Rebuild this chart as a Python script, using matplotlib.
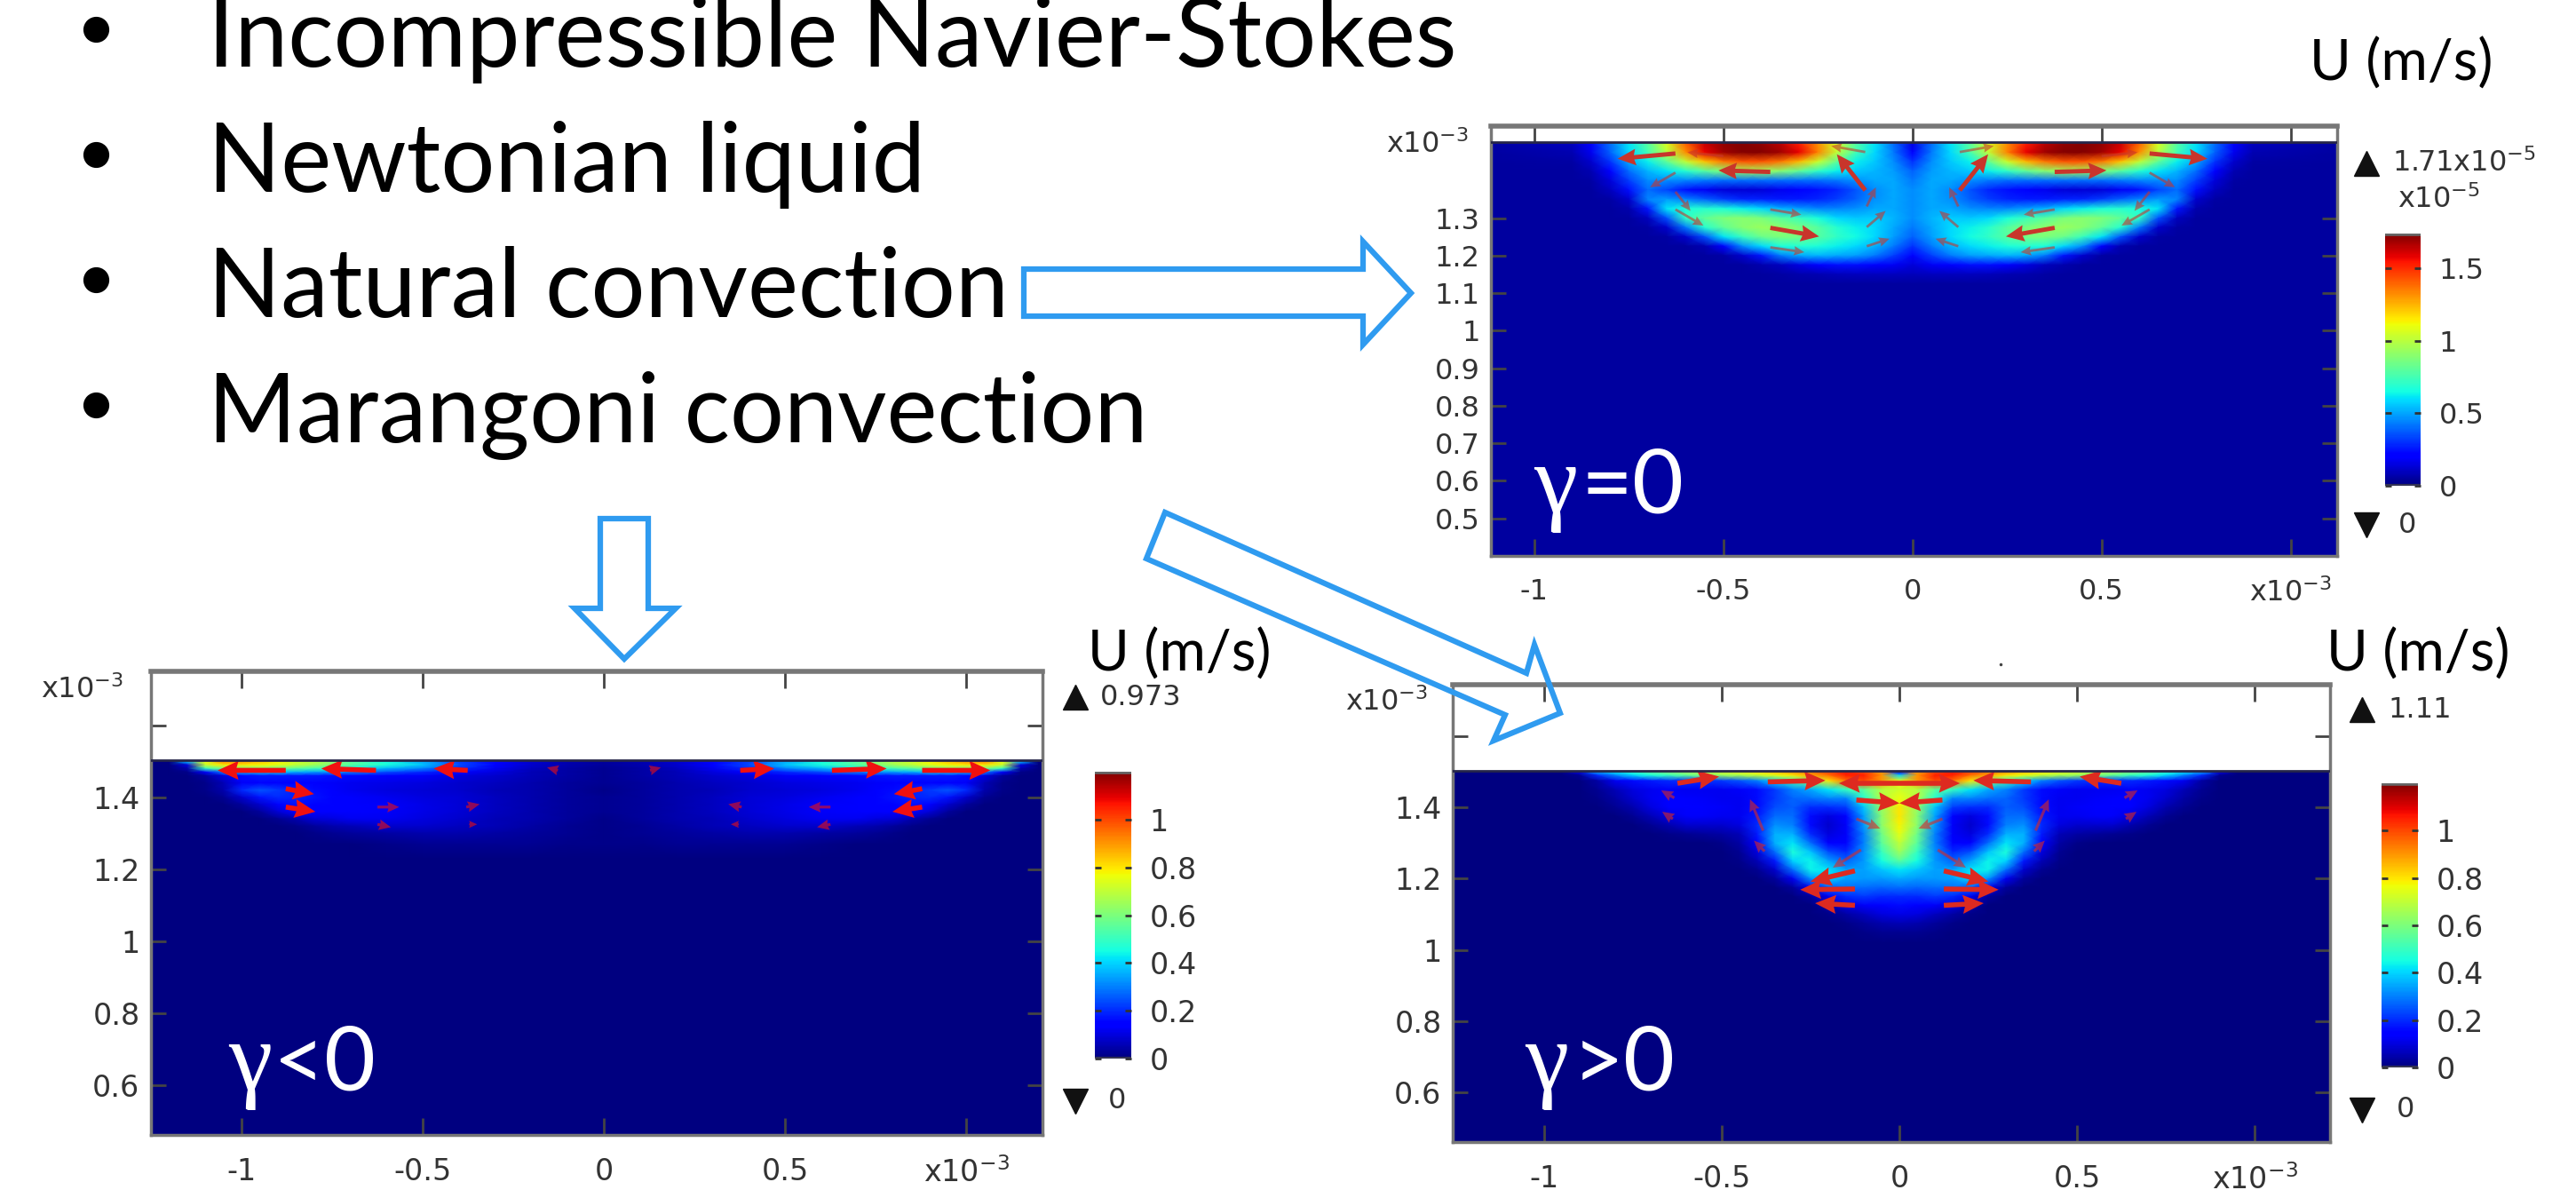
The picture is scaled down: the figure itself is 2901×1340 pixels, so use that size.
import numpy as np
import matplotlib
matplotlib.use("Agg")
import matplotlib.pyplot as plt
from matplotlib.cm import ScalarMappable
from matplotlib.colors import Normalize

W, H = 2901, 1340
BLUE = "#2f9bf0"

bullets = ["Incompressible Navier-Stokes", "Newtonian liquid", "Natural convection", "Marangoni convection"]

x_ticks = [-1, -0.5, 0, 0.5, 1]
x_labels = ["-1", "-0.5", "0", "0.5", "x10$^{-3}$"]

# gamma = 0, speed in 1e-5 m/s, right half of the pool (mirrored when drawn)
xs_a = [0, .05, .1, .15, .2, .25, .3, .35, .4, .45, .5, .55, .6, .65, .7, .75, .8, .85, .9]
ys_a = [1.5, 1.475, 1.45, 1.425, 1.4, 1.375, 1.35, 1.325, 1.3, 1.275, 1.25, 1.225, 1.2, 1.175, 1.15, 1.125]
rows_a = [
    [.15, .4, .6, .78, 1.05, 1.3, 1.5, 1.62, 1.68, 1.7, 1.68, 1.6, 1.38, 1.05, .78, .6, .4, .2, .1],
    [.2, .42, .58, .74, 1.0, 1.32, 1.55, 1.66, 1.7, 1.7, 1.66, 1.55, 1.3, .98, .74, .58, .38, .17, .08],
    [.3, .45, .55, .62, .8, 1.02, 1.22, 1.34, 1.4, 1.4, 1.34, 1.2, 1.0, .8, .62, .5, .3, .12, .06],
    [.38, .48, .52, .55, .62, .7, .8, .88, .92, .92, .86, .78, .68, .6, .52, .4, .2, .08],
    [.42, .5, .5, .46, .42, .4, .4, .4, .4, .4, .4, .42, .44, .45, .45, .32, .14, .06],
    [.45, .5, .45, .36, .28, .24, .2, .17, .14, .13, .14, .18, .24, .33, .4, .24, .1],
    [.45, .5, .46, .38, .32, .28, .26, .26, .27, .28, .32, .38, .44, .48, .44, .12, .06],
    [.45, .5, .5, .46, .44, .44, .48, .52, .58, .62, .66, .68, .66, .6, .25, .07],
    [.45, .52, .56, .55, .58, .65, .72, .78, .85, .88, .86, .8, .7, .35, .1],
    [.42, .5, .58, .62, .68, .78, .85, .9, .92, .88, .8, .68, .42, .12, .06],
    [.38, .48, .58, .64, .7, .78, .84, .86, .82, .72, .6, .35, .12, .06],
    [.3, .42, .52, .58, .62, .66, .68, .66, .58, .45, .2, .08],
    [.22, .32, .42, .48, .5, .52, .5, .42, .25, .12, .06],
    [.14, .18, .22, .24, .24, .2, .15, .1, .07],
    [.09, .1, .1, .1, .09, .08, .07, .06],
    [.05],
]
bg_a = 0.05
ax_a = [.627, .5, .376, .627, .125, .125, .121, .121, .121, .376, .376, .376, .627, .627]
ay_a = [1.472, 1.465, 1.423, 1.421, 1.374, 1.476, 1.331, 1.276, 1.225, 1.323, 1.274, 1.222, 1.323, 1.37]
au_a = [.153, .095, .137, .067, .075, .09, -.024, -.05, -.06, -.082, -.129, -.09, -.074, -.04]
av_a = [-.014, .01, .004, -.039, .096, .016, .051, .043, .02, -.014, -.023, -.013, -.043, -.051]

# gamma < 0, speed in m/s
xs_b = [0, .1, .2, .3, .4, .5, .6, .7, .75, .8, .85, .9, .95, 1, 1.05, 1.1, 1.15, 1.2]
ys_b = [1.5, 1.49, 1.48, 1.47, 1.46, 1.44, 1.42, 1.4, 1.38, 1.36, 1.34, 1.32, 1.3, 1.27, 1.23]
rows_b = [
    [.03, .05, .08, .14, .22, .35, .45, .55, .62, .68, .72, .78, .85, .9, .92, .75, .4],
    [.03, .05, .08, .14, .24, .38, .46, .55, .6, .66, .7, .75, .78, .8, .8, .72, .1],
    [.02, .04, .07, .12, .2, .3, .36, .44, .5, .52, .55, .58, .6, .6, .6, .5, .05],
    [.02, .04, .06, .1, .15, .2, .24, .3, .32, .34, .36, .38, .38, .36, .3, .15, .01],
    [.02, .04, .06, .08, .1, .13, .15, .16, .17, .18, .18, .18, .18, .16, .1, .03],
    [.02, .03, .05, .07, .08, .1, .11, .12, .13, .14, .14, .15, .15, .13, .06, .01],
    [.01, .03, .05, .06, .08, .09, .1, .12, .14, .16, .19, .22, .25, .2, .05, .01],
    [.02, .03, .05, .07, .09, .1, .12, .14, .15, .17, .19, .2, .17, .08, .02],
    [.02, .03, .05, .07, .09, .11, .13, .14, .15, .15, .17, .15, .08, .03],
    [.02, .03, .05, .07, .09, .11, .13, .14, .14, .14, .14, .09, .03],
    [.01, .03, .05, .06, .08, .1, .12, .12, .1, .09, .05, .02],
    [.01, .02, .04, .06, .07, .08, .08, .06, .05, .03, .01],
    [.01, .02, .03, .04, .05, .05, .04, .03, .02, .01],
    [.01, .01, .02, .02, .02, .02, .01],
    [0],
]
bg_b = 0
ax_b = [.878, .629, .376, .127, .878, .878, .625, .38, .625, .372]
ay_b = [1.475, 1.475, 1.475, 1.475, 1.424, 1.373, 1.373, 1.373, 1.325, 1.325]
au_b = [.188, .151, .094, .03, -.078, -.082, -.06, -.037, -.037, -.022]
av_b = [0, .005, .005, .008, -.015, -.013, 0, .008, -.008, 0]

# gamma > 0, speed in m/s
xs_c = [0, .05, .1, .15, .2, .25, .3, .35, .4, .45, .5, .55, .6, .65, .7, .75, .8, .85, .9, .95]
ys_c = [1.5, 1.49, 1.475, 1.45, 1.425, 1.4, 1.375, 1.35, 1.325, 1.3, 1.275, 1.25, 1.225, 1.2, 1.175, 1.15, 1.125, 1.1, 1.075, 1.05, 1.02]
rows_c = [
    [.15, .9, 1.0, 1.05, 1.0, .95, .9, .85, .8, .75, .72, .68, .65, .6, .55, .48, .42, .35, .1],
    [.4, .9, 1.05, 1.05, .95, .88, .8, .75, .7, .66, .64, .6, .56, .5, .46, .4, .3, .2, .02],
    [.75, .9, 1.0, .95, .8, .62, .5, .4, .3, .25, .22, .2, .2, .2, .18, .16, .12, .04],
    [.72, .68, .55, .5, .42, .35, .3, .22, .16, .13, .12, .12, .12, .13, .12, .1, .06, .02],
    [.76, .68, .47, .3, .3, .28, .27, .22, .16, .12, .12, .13, .14, .14, .12, .08, .04, .01],
    [.8, .64, .38, .22, .2, .2, .26, .24, .16, .12, .13, .14, .15, .14, .1, .05, .02],
    [.8, .62, .34, .14, .1, .16, .28, .28, .18, .12, .12, .13, .13, .1, .06, .02],
    [.78, .62, .33, .13, .08, .16, .3, .32, .2, .1, .08, .08, .08, .05, .02],
    [.75, .58, .3, .13, .1, .2, .36, .36, .18, .06, .04, .03, .02, .01],
    [.7, .55, .3, .15, .14, .28, .42, .36, .14, .04, .01],
    [.65, .5, .32, .2, .24, .38, .46, .28, .1, .02],
    [.55, .45, .33, .27, .34, .44, .4, .18, .06, .01],
    [.42, .38, .34, .34, .42, .44, .28, .08, .02],
    [.35, .33, .33, .34, .4, .32, .12, .03],
    [.28, .27, .28, .28, .26, .12, .03],
    [.2, .2, .22, .2, .12, .03],
    [.16, .14, .13, .1, .04],
    [.11, .1, .07, .04, .01],
    [.06, .05, .03, .01],
    [.02, .02, .01],
    [0],
]
bg_c = 0
ax_c = [0, .37, .624, .121, .121, .125, .125, .125, .108, .383, .379, .633, .637]
ay_c = [1.468, 1.472, 1.468, 1.421, 1.368, 1.222, 1.171, 1.125, 1.281, 1.335, 1.277, 1.427, 1.368]
au_c = [.17, -.162, -.117, -.121, -.067, .125, .154, .112, .079, .037, .03, .037, .03]
av_c = [0, .004, .019, -.009, -.027, -.03, -.002, .006, -.05, .088, .03, .021, .02]


def mirror_field(xs, ys, rows, bg, xmax, ybottom):
    # pad short rows, mirror about x=0, add the far edges and the bottom of the pool
    half = np.full((len(ys), len(xs)), float(bg))
    for i, r in enumerate(rows):
        half[i, :len(r)] = r
    xr = np.append(xs, xmax)
    half = np.hstack([half, np.full((len(ys), 1), float(bg))])
    yy = np.append(ys, ybottom)
    half = np.vstack([half, np.full((1, half.shape[1]), float(bg))])
    xx = np.concatenate([-xr[:0:-1], xr])
    zz = np.hstack([half[:, :0:-1], half])
    return xx, yy, zz


def panel(box, xlim, ylim, field, arrows, a_color, a_width, cutoff, yticks, ylabels, fs):
    l, r, t, b = box
    ax = fig.add_axes([l / W, 1 - b / H, (r - l) / W, (b - t) / H])
    xx, yy, zz, vmax = field
    ax.pcolormesh(xx, yy, zz, shading="gouraud", cmap="jet", vmin=0, vmax=vmax)
    qx, qy, qu, qv = [np.array(a) for a in arrows]
    # long arrows are heavier than the short, faint ones
    big = np.hypot(qu, qv) >= cutoff
    for mask, w, al in [(big, a_width * 1.4, 1.0), (~big, a_width * 0.8, 0.6)]:
        ax.quiver(np.r_[qx[mask], -qx[mask]], np.r_[qy[mask], qy[mask]],
                  np.r_[qu[mask], -qu[mask]], np.r_[qv[mask], qv[mask]], angles="xy",
                  scale_units="xy", scale=1, color=a_color, alpha=al, units="dots", width=w,
                  headwidth=3.8, headlength=4.2, headaxislength=3.8, zorder=3)
    ax.axhline(1.503, color="#26264a", lw=2, zorder=4)
    ax.set_xlim(xlim)
    ax.set_ylim(ylim)
    ax.set_xticks(x_ticks)
    ax.set_xticklabels(x_labels)
    ax.set_yticks(yticks)
    ax.set_yticklabels(ylabels)
    ax.tick_params(direction="in", top=True, right=True, length=12, width=2, color="#444444",
                   labelcolor="#333333", labelsize=fs, pad=9)
    ax.tick_params(axis="x", pad=18)
    ax.xaxis.set_tick_params(which="major", length=14)
    for s in ax.spines.values():
        s.set_color("#777777")
        s.set_linewidth(2.5)
    ax.spines["top"].set_linewidth(4)
    return ax


def scale_bar(box, vmax, ticks, labels, fs):
    l, r, t, b = box
    cax = fig.add_axes([l / W, 1 - b / H, (r - l) / W, (b - t) / H])
    cb = fig.colorbar(ScalarMappable(Normalize(0, vmax), "jet"), cax=cax, ticks=ticks)
    cb.set_ticklabels(labels)
    cb.outline.set_visible(False)
    cax.axhline(vmax, color="#666666", lw=4)
    cax.axhline(0, color="#333355", lw=3)
    cax.tick_params(direction="in", left=True, right=True, length=5, width=2, color="#333333",
                    labelcolor="#333333", labelsize=fs, pad=15)


fig = plt.figure(figsize=(W / 100, H / 100), dpi=100, facecolor="white")

xa, ya, za = mirror_field(xs_a, ys_a, rows_a, bg_a, 1.15, 0.4)
xb, yb, zb = mirror_field(xs_b, ys_b, rows_b, bg_b, 1.3, 0.46)
xc, yc, zc = mirror_field(xs_c, ys_c, rows_c, bg_c, 1.3, 0.45)

panel((1679, 2632, 142, 626), (-1.115, 1.123), (0.40, 1.545), (xa, ya, za, 1.71), (ax_a, ay_a, au_a, av_a),
      "#c8352b", 3.5, 0.12, [.5, .6, .7, .8, .9, 1, 1.1, 1.2, 1.3],
      ["0.5", "0.6", "0.7", "0.8", "0.9", "1", "1.1", "1.2", "1.3"], 23)
panel((170, 1174, 756, 1278), (-1.25, 1.21), (0.462, 1.75), (xb, yb, zb, 1.2), (ax_b, ay_b, au_b, av_b),
      "#f01010", 4, 0.07, [.6, .8, 1, 1.2, 1.4, 1.6], ["0.6", "0.8", "1", "1.2", "1.4", ""], 24)
panel((1636, 2624, 771, 1286), (-1.256, 1.211), (0.46, 1.745), (xc, yc, zc, 1.2), (ax_c, ay_c, au_c, av_c),
      "#dd2a20", 4, 0.1, [.6, .8, 1, 1.2, 1.4, 1.6], ["0.6", "0.8", "1", "1.2", "1.4", ""], 24)

scale_bar((2686, 2726, 263, 547), 1.74, [0, .5, 1, 1.5], ["0", "0.5", "1", "1.5"], 23)
scale_bar((1233, 1274, 869, 1192), 1.2, [0, .2, .4, .6, .8, 1], ["0", "0.2", "0.4", "0.6", "0.8", "1"], 24)
scale_bar((2682, 2723, 882, 1202), 1.2, [0, .2, .4, .6, .8, 1], ["0", "0.2", "0.4", "0.6", "0.8", "1"], 24)

# slide overlay in pixel coordinates
ov = fig.add_axes([0, 0, 1, 1], zorder=10)
ov.set_xlim(0, W)
ov.set_ylim(H, 0)
ov.axis("off")

for label, base, mid in zip(bullets, [75, 216, 357, 498], [33, 174, 315, 456]):
    ov.text(234, base, label, family="Lato", fontsize=77.5, color="black", va="baseline", ha="left")
    ov.plot([108], [mid], "o", color="black", ms=20)

for px, py in [(2601, 91), (1225, 756), (2620, 756)]:
    ov.text(px, py, "U (m/s)", family="Lato", fontsize=46, color="black", va="baseline")

for px, py in [(1561, 163), (46, 777), (1515, 791)]:
    ov.text(px, py, "x10$^{-3}$", fontsize=23, color="#333333", va="center")
ov.text(2700, 225, "x10$^{-5}$", fontsize=23, color="#333333", va="center", ha="left")

for px, py, tx, s in [(2665, 184, 2694, "1.71x10$^{-5}$"), (1211, 785, 1239, "0.973"), (2660, 799, 2689, "1.11")]:
    ov.plot([px], [py], "^", color="#111111", ms=20)
    ov.text(tx, py, s, fontsize=23, color="#333333", va="center")
for px, py, tx in [(2665, 591, 2701), (1211, 1240, 1248), (2660, 1250, 2699)]:
    ov.plot([px], [py], "v", color="#111111", ms=20)
    ov.text(tx, py, "0", fontsize=23, color="#333333", va="center")

for gx, tx, sign, base in [(1727, 1781, "=0", 577), (257, 308, "<0", 1227), (1717, 1771, ">0", 1227)]:
    ov.text(gx, base, "\u03b3", family="Liberation Serif", fontsize=80, color="white", va="baseline")
    ov.text(tx, base, sign, family="Lato", fontsize=72, color="white", va="baseline")

# hollow slide arrows
arrow_right = [(1153, 303), (1535, 303), (1535, 272), (1589, 330), (1535, 388), (1535, 356), (1153, 356)]
arrow_down = [(676, 584), (730, 584), (730, 685), (761, 685), (703, 742), (647, 685), (676, 685)]
arrow_diag = [(1312, 577), (1719, 758), (1728, 726), (1757, 803), (1682, 834), (1695, 805), (1291, 629)]
for pts in [arrow_right, arrow_down, arrow_diag]:
    ov.add_patch(plt.Polygon(pts, closed=True, fill=False, edgecolor=BLUE, lw=4.5, joinstyle="miter"))

ov.plot([2253], [748], ".", color="#444444", ms=3)

fig.savefig("out.png", dpi=100)
